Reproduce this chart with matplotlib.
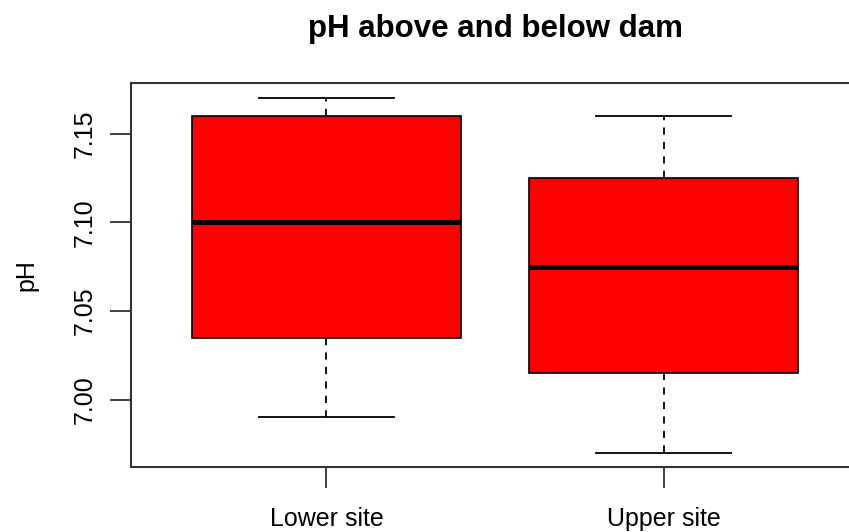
import matplotlib.pyplot as plt

plt.rcParams['font.family'] = ['Liberation Sans', 'DejaVu Sans']

# Sites and five-number summaries
sites = ["Lower site", "Upper site"]
whisker_low = [6.99, 6.97]
q1 = [7.035, 7.015]
median = [7.10, 7.075]
q3 = [7.16, 7.125]
whisker_high = [7.17, 7.16]
yticks = [7.00, 7.05, 7.10, 7.15]

stats = []
for i, name in enumerate(sites):
    stats.append({
        "label": name,
        "whislo": whisker_low[i],
        "q1": q1[i],
        "med": median[i],
        "q3": q3[i],
        "whishi": whisker_high[i],
        "fliers": [],
    })

fig = plt.figure(figsize=(8.49, 5.32), dpi=100)
ax = fig.add_axes([131 / 849, 65 / 532, 728 / 849, 384 / 532])

ax.bxp(
    stats,
    positions=[1, 2],
    widths=0.8,
    capwidths=0.4,
    patch_artist=True,
    showfliers=False,
    boxprops=dict(facecolor="#ff0000", edgecolor="black", linewidth=1.2),
    medianprops=dict(color="black", linewidth=3.5, solid_capstyle="butt"),
    whiskerprops=dict(color="black", linewidth=1.3, linestyle=(0, (4, 4))),
    capprops=dict(color="black", linewidth=1.3),
)

ax.set_xlim(0.42, 2.58)
ax.set_ylim(6.962, 7.1786)
ax.set_yticks(yticks)
ax.set_yticklabels([f"{v:.2f}" for v in yticks], rotation=90, va="center")
ax.set_xticks([1, 2])
ax.set_xticklabels(sites)
ax.tick_params(axis="both", labelsize=18, length=15, width=1.3, color="#333333")
ax.tick_params(axis="y", pad=10)
ax.tick_params(axis="x", pad=14)
for sp in ax.spines.values():
    sp.set_color("#333333")
    sp.set_linewidth(1.5)

ax.set_ylabel("pH", fontsize=18, labelpad=24)
fig.text(495 / 849, 1 - 37 / 532, "pH above and below dam", ha="center",
         va="baseline", fontsize=22.5, fontweight="bold")

fig.savefig("out.png", dpi=100)
